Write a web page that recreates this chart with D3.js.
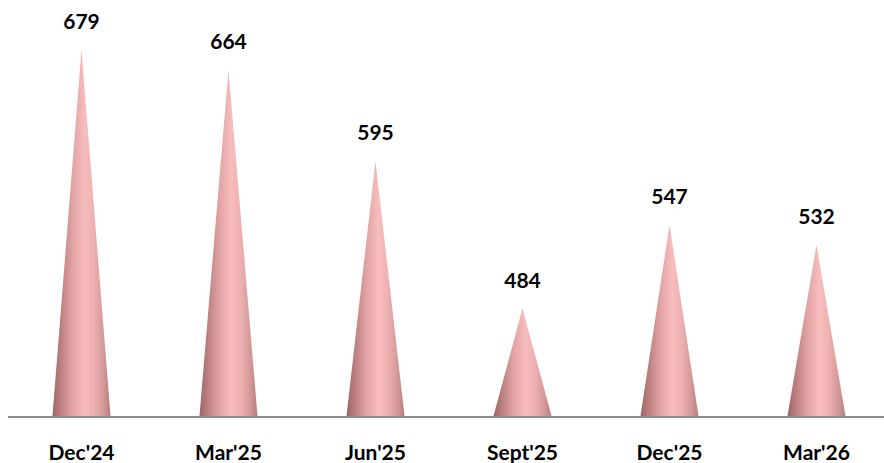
<!DOCTYPE html>
<html><head><meta charset="utf-8">
<script src="https://cdn.jsdelivr.net/npm/d3@7"></script>
<style>body{margin:0;background:#fff}svg{display:block}</style>
</head><body>
<script>
const categories = ["Dec'24","Mar'25","Jun'25","Sept'25","Dec'25","Mar'26"];
const values = [679,664,595,484,547,532];

const W = 884, H = 463;
const svg = d3.select("body").append("svg").attr("width", W).attr("height", H);
const baseY = 416;
const x = d3.scaleBand().domain(categories).range([8, 890]).padding(0);
const y = d3.scaleLinear().domain([403, 679]).range([baseY, 50]);

const defs = svg.append("defs");
const g = defs.append("linearGradient").attr("id","cone").attr("x1","0").attr("x2","1").attr("y1","0").attr("y2","0");
[[0,"#9a6565"],[0.12,"#b87b7b"],[0.35,"#e2a4a4"],[0.55,"#f7bcbc"],[0.7,"#efb2b2"],[0.88,"#d49898"],[1,"#b47d7d"]]
  .forEach(([o,c]) => g.append("stop").attr("offset", o).attr("stop-color", c));

const halfW = 29;
svg.append("g").selectAll("path").data(values).join("path")
  .attr("d", (v,i) => {
    const cx = x(categories[i]) + x.bandwidth()/2;
    const ty = y(v);
    return `M${cx-halfW},${baseY} L${cx},${ty} L${cx+halfW},${baseY} Q${cx},${baseY+3} ${cx-halfW},${baseY} Z`;
  })
  .attr("fill","url(#cone)");

svg.append("line").attr("x1",8).attr("x2",W).attr("y1",417).attr("y2",417)
  .attr("stroke","#8c8c8c").attr("stroke-width",2);

const font = "Lato, 'Open Sans', sans-serif";
svg.append("g").selectAll("text").data(values).join("text")
  .attr("x",(v,i)=> x(categories[i]) + x.bandwidth()/2)
  .attr("y", v => y(v) - 21)
  .attr("text-anchor","middle")
  .attr("font-family", font).attr("font-weight","bold").attr("font-size",21)
  .attr("fill","#000").text(v => v);

const xAxis = d3.axisBottom(x).tickSize(0).tickPadding(0);
const ax = svg.append("g").attr("transform",`translate(0,${baseY})`).call(xAxis);
ax.select(".domain").remove();
ax.selectAll("text").attr("dy", null).attr("y", 44)
  .attr("font-family", font).attr("font-weight","bold").attr("font-size",21).attr("fill","#000");
</script>
</body></html>
